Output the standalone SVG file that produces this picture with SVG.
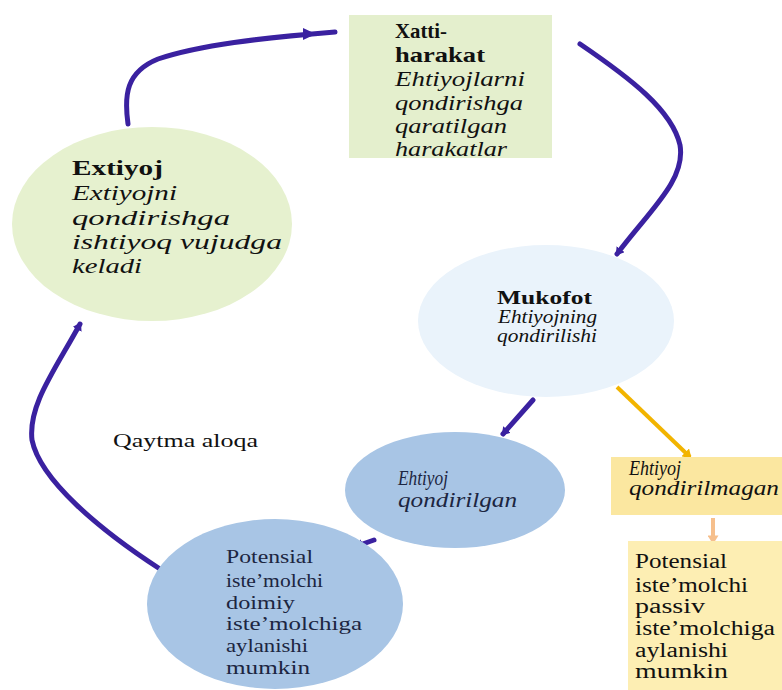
<svg xmlns="http://www.w3.org/2000/svg" width="782" height="690" viewBox="0 0 782 690">
  <style>
    text { font-family: "Liberation Serif", "Times New Roman", serif; fill: #111; }
    .b { font-weight: bold; }
    .i { font-style: italic; }
    .navy { fill: #1c2541; }
    .flow { fill: none; stroke: #3a21a0; stroke-width: 5; stroke-linecap: round; }
    .gold { fill: none; stroke: #f2b400; stroke-width: 4; }
    .peach { fill: none; stroke: #f6bf8c; stroke-width: 4; }
  </style>
  <defs>
    <marker id="tipPurple" viewBox="0 0 8 10" refX="6" refY="5" markerWidth="8" markerHeight="10" markerUnits="userSpaceOnUse" orient="auto">
      <path d="M0,0 L8,5 L0,10 Z" fill="#3a21a0"/>
    </marker>
    <marker id="tipGold" viewBox="0 0 8 10" refX="6" refY="5" markerWidth="9" markerHeight="11" markerUnits="userSpaceOnUse" orient="auto">
      <path d="M0,0 L8,5 L0,10 Z" fill="#f2b400"/>
    </marker>
    <marker id="tipPeach" viewBox="0 0 8 10" refX="6" refY="5" markerWidth="10" markerHeight="11" markerUnits="userSpaceOnUse" orient="auto">
      <path d="M0,0 L8,5 L0,10 Z" fill="#f6bf8c"/>
    </marker>
  </defs>

  <rect width="782" height="690" fill="#ffffff"/>

  <!-- connectors -->
  <g id="connectors">
    <path class="flow" d="M128,124 C124,95 126,72 158,59 C200,45 260,38 335,32"/>
    <path d="M303,28 L316,34 L303,40 Z" fill="#3a21a0"/>
    <path class="flow" d="M580,44 C630,78 672,110 680,145 C686,180 650,210 617,254" marker-end="url(#tipPurple)"/>
    <path class="flow" d="M533,400 L503,434" marker-end="url(#tipPurple)"/>
    <path class="gold" d="M617,387 L690,457" marker-end="url(#tipGold)"/>
    <path class="peach" d="M713,518 L713,542" marker-end="url(#tipPeach)"/>
    <path class="flow" d="M374,540 L357,546" marker-end="url(#tipPurple)"/>
    <path class="flow" d="M160,569 C100,530 40,480 32,440 C28,405 55,370 80,324" marker-end="url(#tipPurple)"/>
  </g>

  <!-- need -->
  <g id="extiyoj">
    <ellipse cx="152" cy="224" rx="140" ry="97" fill="#e6f1cf"/>
    <text class="b" x="72" y="175" font-size="22" textLength="91" lengthAdjust="spacingAndGlyphs">Extiyoj</text>
    <text class="i" x="72" y="200" font-size="22" textLength="105" lengthAdjust="spacingAndGlyphs">Extiyojni</text>
    <text class="i" x="72" y="224.5" font-size="22" textLength="158" lengthAdjust="spacingAndGlyphs">qondirishga</text>
    <text class="i" x="72" y="249" font-size="22" textLength="210" lengthAdjust="spacingAndGlyphs">ishtiyoq vujudga</text>
    <text class="i" x="72" y="273" font-size="22" textLength="70" lengthAdjust="spacingAndGlyphs">keladi</text>
  </g>

  <!-- action -->
  <g id="xatti-harakat">
    <rect x="349" y="15" width="203" height="143" fill="#e4efcd"/>
    <text class="b" x="395" y="38" font-size="21" textLength="52" lengthAdjust="spacingAndGlyphs">Xatti-</text>
    <text class="b" x="395" y="62" font-size="21" textLength="90" lengthAdjust="spacingAndGlyphs">harakat</text>
    <text class="i" x="395" y="86" font-size="21" textLength="130" lengthAdjust="spacingAndGlyphs">Ehtiyojlarni</text>
    <text class="i" x="395" y="110" font-size="21" textLength="128" lengthAdjust="spacingAndGlyphs">qondirishga</text>
    <text class="i" x="395" y="133" font-size="21" textLength="112" lengthAdjust="spacingAndGlyphs">qaratilgan</text>
    <text class="i" x="395" y="156" font-size="21" textLength="112" lengthAdjust="spacingAndGlyphs">harakatlar</text>
  </g>

  <!-- reward -->
  <g id="mukofot">
    <ellipse cx="546" cy="321" rx="128" ry="76" fill="#eaf3fb"/>
    <text class="b" x="497" y="304" font-size="18.5" textLength="95" lengthAdjust="spacingAndGlyphs">Mukofot</text>
    <text class="i" x="498" y="323" font-size="18" textLength="99" lengthAdjust="spacingAndGlyphs">Ehtiyojning</text>
    <text class="i" x="497" y="342" font-size="18" textLength="100" lengthAdjust="spacingAndGlyphs">qondirilishi</text>
  </g>

  <!-- need satisfied -->
  <g id="qondirilgan">
    <ellipse cx="455" cy="490" rx="110" ry="58" fill="#a8c5e5"/>
    <text class="i navy" x="398" y="485" font-size="20" textLength="50" lengthAdjust="spacingAndGlyphs">Ehtiyoj</text>
    <text class="i navy" x="398" y="507" font-size="20" textLength="119" lengthAdjust="spacingAndGlyphs">qondirilgan</text>
  </g>

  <!-- need not satisfied -->
  <g id="qondirilmagan">
    <rect x="611" y="457" width="171" height="58" fill="#fbe7a0"/>
    <text class="i" x="629" y="475" font-size="20" textLength="52" lengthAdjust="spacingAndGlyphs">Ehtiyoj</text>
    <text class="i" x="629" y="495" font-size="20" textLength="150" lengthAdjust="spacingAndGlyphs">qondirilmagan</text>
  </g>

  <!-- loyal consumer -->
  <g id="doimiy">
    <ellipse cx="275" cy="604" rx="128" ry="85" fill="#a8c5e5"/>
    <text class="navy" x="226" y="563" font-size="19.5" textLength="87" lengthAdjust="spacingAndGlyphs">Potensial</text>
    <text class="navy" x="226" y="587" font-size="19.5" textLength="97" lengthAdjust="spacingAndGlyphs">iste’molchi</text>
    <text class="navy" x="226" y="609" font-size="19.5" textLength="69" lengthAdjust="spacingAndGlyphs">doimiy</text>
    <text class="navy" x="226" y="630" font-size="19.5" textLength="136" lengthAdjust="spacingAndGlyphs">iste’molchiga</text>
    <text class="navy" x="226" y="652" font-size="19.5" textLength="82" lengthAdjust="spacingAndGlyphs">aylanishi</text>
    <text class="navy" x="226" y="674" font-size="19.5" textLength="84" lengthAdjust="spacingAndGlyphs">mumkin</text>
  </g>

  <!-- passive consumer -->
  <g id="passiv">
    <rect x="628" y="541" width="154" height="149" fill="#fdeeb3"/>
    <text x="635" y="568" font-size="20" textLength="92" lengthAdjust="spacingAndGlyphs">Potensial</text>
    <text x="635" y="592" font-size="20" textLength="113" lengthAdjust="spacingAndGlyphs">iste’molchi</text>
    <text x="635" y="613" font-size="20" textLength="70" lengthAdjust="spacingAndGlyphs">passiv</text>
    <text x="635" y="635" font-size="20" textLength="140" lengthAdjust="spacingAndGlyphs">iste’molchiga</text>
    <text x="635" y="657" font-size="20" textLength="93" lengthAdjust="spacingAndGlyphs">aylanishi</text>
    <text x="635" y="678" font-size="20" textLength="93" lengthAdjust="spacingAndGlyphs">mumkin</text>
  </g>

  <!-- feedback label -->
  <g id="qaytma-aloqa">
    <text x="113" y="447" font-size="19" textLength="145" lengthAdjust="spacingAndGlyphs">Qaytma aloqa</text>
  </g>
</svg>
